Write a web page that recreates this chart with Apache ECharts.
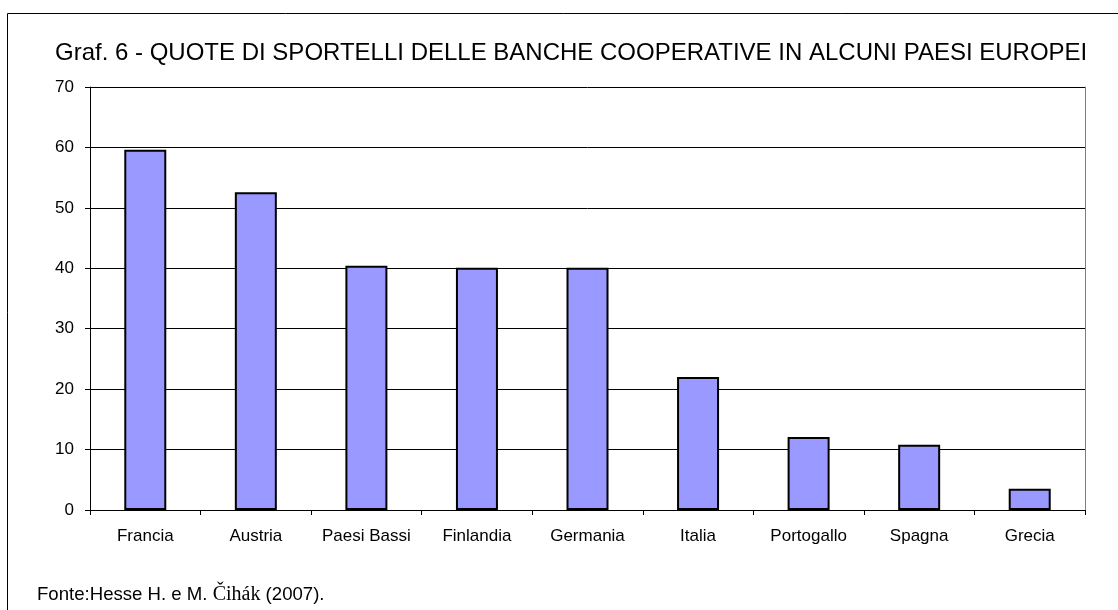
<!DOCTYPE html>
<html>
<head>
<meta charset="utf-8">
<script src="https://cdn.jsdelivr.net/npm/echarts@6/dist/echarts.min.js"></script>
<style>
  html, body { margin: 0; padding: 0; background: #fff; }
  #chart { width: 1118px; height: 610px; }
</style>
</head>
<body>
<div id="chart"></div>
<script>
// Quote di sportelli delle banche cooperative (%)
const categories = ['Francia', 'Austria', 'Paesi Bassi', 'Finlandia', 'Germania', 'Italia', 'Portogallo', 'Spagna', 'Grecia'];
const quote = [59.6, 52.6, 40.4, 40.1, 40.1, 22.0, 12.1, 10.8, 3.5];
const yTicks = { min: 0, max: 70, interval: 10 };

const titleText = 'Graf. 6 - QUOTE DI SPORTELLI DELLE BANCHE COOPERATIVE IN ALCUNI PAESI EUROPEI';
const FONT = '"Liberation Sans", Arial, sans-serif';
const SERIF = '"Liberation Serif", "Times New Roman", serif';

const chart = echarts.init(document.getElementById('chart'), null, { renderer: 'canvas' });

chart.setOption({
  backgroundColor: '#ffffff',
  animation: false,
  title: [
    {
      text: titleText,
      left: 55,
      top: 41,
      padding: 0,
      textStyle: { fontFamily: FONT, fontSize: 24, fontWeight: 'normal', color: '#000' }
    },
    {
      text: '{a|Fonte:Hesse H. e M. }{b|Čihák}{a| (2007).}',
      left: 37,
      top: 585,
      padding: 0,
      textStyle: {
        fontWeight: 'normal',
        rich: {
          a: { fontFamily: FONT, fontSize: 18.6, fontWeight: 'normal', color: '#000' },
          b: { fontFamily: SERIF, fontSize: 20, fontWeight: 'normal', color: '#000' }
        }
      }
    }
  ],
  graphic: [
    {
      type: 'rect',
      silent: true,
      shape: { x: 7.5, y: 13.5, width: 1200, height: 700 },
      style: { fill: 'none', stroke: '#000', lineWidth: 1 }
    }
  ],
  grid: { left: 90, top: 87, right: 33, bottom: 100, containLabel: false },
  xAxis: {
    type: 'category',
    data: categories,
    boundaryGap: true,
    axisLine: { show: true, lineStyle: { color: '#000', width: 1 } },
    axisTick: { show: true, length: 5, alignWithLabel: false, lineStyle: { color: '#000' } },
    axisLabel: { fontFamily: FONT, fontSize: 17, color: '#000', margin: 18, interval: 0 },
    splitLine: { show: false }
  },
  yAxis: [
    {
      type: 'value',
      min: yTicks.min,
      max: yTicks.max,
      interval: yTicks.interval,
      axisLine: { show: true, lineStyle: { color: '#000', width: 1 } },
      axisTick: { show: true, length: 5, lineStyle: { color: '#000' } },
      axisLabel: { fontFamily: FONT, fontSize: 17, color: '#000', margin: 16 },
      splitLine: { show: true, lineStyle: { color: '#000', width: 1 } }
    },
    {
      type: 'value',
      position: 'right',
      min: yTicks.min,
      max: yTicks.max,
      interval: yTicks.interval,
      axisLine: { show: true, lineStyle: { color: '#808080', width: 1 } },
      axisTick: { show: false },
      axisLabel: { show: false },
      splitLine: { show: false }
    }
  ],
  series: [
    {
      type: 'bar',
      data: quote,
      barWidth: 42,
      itemStyle: { color: '#9999FF', borderColor: '#000', borderWidth: 2 }
    }
  ]
});
</script>
</body>
</html>
